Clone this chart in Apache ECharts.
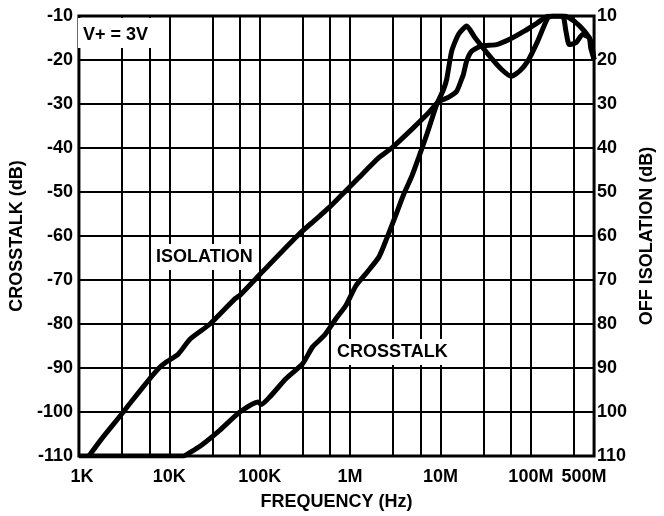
<!DOCTYPE html>
<html>
<head>
<meta charset="utf-8">
<script src="https://cdn.jsdelivr.net/npm/echarts@6/dist/echarts.min.js"></script>
<style>
html,body{margin:0;padding:0;background:#fff;}
#c{width:664px;height:516px;}
</style>
</head>
<body>
<div id="c"></div>
<script>
// Frequencies in Hz, levels in dB
const isoFreq = [1290, 1800, 2990, 3850, 5880, 7900, 9340, 12600, 17000, 28200, 53100, 60300, 102000, 275000, 402000, 588000, 822000, 1.2e6, 2.08e6, 2.92e6, 4.84e6, 7.38e6, 9.5e6, 12.2e6, 15.1e6, 17.1e6, 17.9e6, 19.5e6, 22.1e6, 28.4e6, 41.6e6, 58.3e6, 85.3e6, 119e6, 154e6, 234e6, 302e6, 389e6, 460e6, 500e6];
const isoDb   = [-110, -106.0, -100.4, -97.5, -92.8, -89.8, -88.6, -86.8, -83.4, -80.0, -74.3, -73.5, -68.6, -59.5, -56.5, -53.5, -50.5, -47.1, -42.2, -39.9, -35.7, -32.0, -29.5, -28.5, -27.1, -24.4, -23.3, -20.2, -18.0, -16.8, -16.5, -15.3, -13.4, -11.5, -10.05, -10.0, -11.2, -13.4, -15.7, -19.9];

const xtFreq = [1000, 14300, 17000, 23800, 36300, 60300, 95800, 104000, 129000, 196000, 299000, 385000, 518000, 697000, 897000, 1.16e6, 1.49e6, 2.08e6, 2.57e6, 3.18e6, 3.92e6, 4.84e6, 5.73e6, 7.06e6, 9.1e6, 10.8e6, 11.7e6, 13.3e6, 15.8e6, 19.5e6, 24.0e6, 33.7e6, 47.2e6, 60.8e6, 75.2e6, 92.7e6, 119e6, 154e6, 175e6, 225e6, 244e6, 266e6, 315e6, 373e6, 441e6, 459e6, 500e6];
const xtDb   = [-110, -110, -109.2, -107.2, -104.1, -100.0, -97.7, -98.3, -96.6, -92.4, -89.0, -85.2, -82.6, -78.8, -75.8, -71.3, -68.6, -64.8, -60.3, -55.4, -50.5, -46.3, -42.2, -36.9, -30.1, -26.7, -24.4, -18.0, -14.2, -12.3, -14.9, -18.7, -22.1, -23.7, -22.5, -20.2, -15.7, -10.4, -10.0, -10.05, -13.4, -16.5, -16.1, -14.2, -14.9, -17.2, -19.9];

// Extra vertical grid lines (Hz)
const minorGrid = [3e3, 6e3, 3e4, 6e4, 3e5, 6e5, 3e6, 6e6, 3e7, 6e7, 3e8];
// tick labels
const xTickValues = [1e3, 1e4, 1e5, 1e6, 1e7, 1e8, 5e8];
const xTickLabels = ['1K', '10K', '100K', '1M', '10M', '100M', '500M'];

const FONT = '"Liberation Sans", Arial, Helvetica, sans-serif';
const FS = 18;
const lblStyle = {fontFamily: FONT, fontWeight: 'bold', fontSize: FS, color: '#000'};

function fmtX(v) {
  let bi = -1, bd = Infinity;
  xTickValues.forEach((t, i) => { const d = Math.abs(Math.log10(v) - Math.log10(t)); if (d < bd) { bd = d; bi = i; } });
  if (bd > 0.01) return '';
  if (bi === 0) return '{first|' + xTickLabels[bi] + '}';
  if (bi === xTickValues.length - 1) return '{last|' + xTickLabels[bi] + '}';
  return xTickLabels[bi];
}

const chart = echarts.init(document.getElementById('c'), null, {renderer: 'canvas'});
chart.setOption({
  animation: false,
  backgroundColor: '#fff',
  grid: {left: 78, right: 68, top: 16, bottom: 59, show: true, borderColor: '#000', borderWidth: 3, backgroundColor: 'transparent'},
  xAxis: {
    type: 'log', logBase: 10, min: 1e3, max: 5e8,
    name: 'FREQUENCY (Hz)', nameLocation: 'middle', nameGap: 37,
    nameTextStyle: lblStyle,
    axisLine: {show: false}, axisTick: {show: false},
    axisLabel: Object.assign({margin: 12, formatter: fmtX, showMaxLabel: true, showMinLabel: true,
      rich: {
        first: Object.assign({padding: [0, 0, 0, 6]}, lblStyle),
        last: Object.assign({padding: [0, 20, 0, 0]}, lblStyle)
      }}, lblStyle),
    splitLine: {show: true, lineStyle: {color: '#000', width: 2}},
    minorSplitLine: {show: false}
  },
  yAxis: [
    {
      type: 'value', min: -110, max: -10, interval: 10, position: 'left',
      name: 'CROSSTALK (dB)', nameLocation: 'middle', nameGap: 44,
      nameTextStyle: lblStyle,
      axisLine: {show: false}, axisTick: {show: false},
      axisLabel: Object.assign({margin: 6}, lblStyle),
      splitLine: {show: true, lineStyle: {color: '#000', width: 2}}
    },
    {
      type: 'value', min: 10, max: 110, interval: 10, position: 'right', inverse: true,
      name: 'OFF ISOLATION (dB)', nameLocation: 'middle', nameGap: 40,
      nameTextStyle: lblStyle,
      axisLine: {show: false}, axisTick: {show: false},
      axisLabel: Object.assign({margin: 3}, lblStyle),
      splitLine: {show: false}
    }
  ],
  series: [
    {
      name: 'ISOLATION', type: 'line', yAxisIndex: 0,
      data: isoFreq.map((f, i) => [f, isoDb[i]]),
      showSymbol: false, smooth: 0.2,
      lineStyle: {color: '#000', width: 5}, z: 5,
      markLine: {
        silent: true, symbol: ['none', 'none'], label: {show: false},
        lineStyle: {color: '#000', width: 2, type: 'solid'},
        data: minorGrid.map(f => ({xAxis: f})), z: 1
      }
    },
    {
      name: 'CROSSTALK', type: 'line', yAxisIndex: 0,
      data: xtFreq.map((f, i) => [f, xtDb[i]]),
      showSymbol: false, smooth: 0.2,
      lineStyle: {color: '#000', width: 5}, z: 5
    }
  ],
  graphic: [
    {type: 'text', z: 100, left: 78, top: 18, style: {text: 'V+ = 3V', font: 'bold 18px ' + FONT, fill: '#000', backgroundColor: '#fff', padding: [8, 7, 4, 5]}},
    {type: 'text', z: 100, left: 153, top: 244, style: {text: 'ISOLATION', font: 'bold 18px ' + FONT, fill: '#000', backgroundColor: '#fff', padding: [4, 3, 4, 3]}},
    {type: 'text', z: 100, left: 333, top: 339, style: {text: 'CROSSTALK', font: 'bold 18px ' + FONT, fill: '#000', backgroundColor: '#fff', padding: [4, 4, 4, 4]}}
  ]
});
</script>
</body>
</html>
